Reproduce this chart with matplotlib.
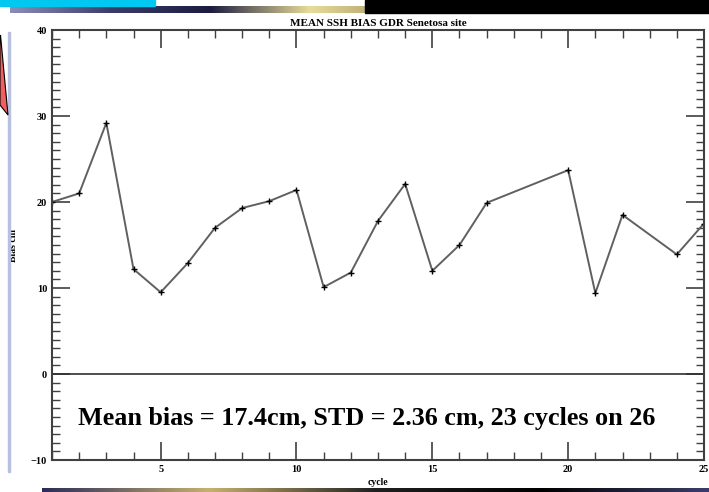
import numpy as np
import matplotlib
matplotlib.use('Agg')
import matplotlib.pyplot as plt
from matplotlib.patches import Rectangle, Polygon
from matplotlib.colors import LinearSegmentedColormap
from matplotlib.ticker import MultipleLocator

# cycles kept (18, 19 and 23 are missing) and the mean SSH bias in cm
cycles = [1, 2, 3, 4, 5, 6, 7, 8, 9, 10, 11, 12, 13, 14, 15, 16, 17, 20, 21, 22, 24, 25]
bias = [20.0, 21.0, 29.2, 12.2, 9.5, 12.9, 17.0, 19.3, 20.1, 21.4, 10.1, 11.8,
        17.8, 22.1, 12.0, 15.0, 19.9, 23.7, 9.4, 18.5, 13.9, 17.5]

title = 'MEAN SSH BIAS GDR Senetosa site'
xlab = 'cycle'
ylab = 'Bias cm'
note = 'Mean bias = 17.4cm, STD = 2.36 cm, 23 cycles on 26'

W, H = 709, 492
fig = plt.figure(figsize=(W / 100, H / 100), dpi=100)
serif = ['Liberation Serif', 'DejaVu Serif']

# --- slide decorations around the plot ---
fig.patches.append(Rectangle((0, 1 - 6 / H), 155 / W, 6 / H, transform=fig.transFigure,
                             color='#00c8f0', zorder=0))
fig.patches.append(Rectangle((365 / W, 1 - 13 / H), 1, 13 / H, transform=fig.transFigure,
                             color='#000000', zorder=0))
bar = fig.add_axes([10 / W, 1 - 13 / H, 1 - 10 / W, 7 / H])
cm_top = LinearSegmentedColormap.from_list('top', ['#8a8db8', '#3a3d6a', '#1c1c40', '#e8dc98',
                                                   '#a09060', '#808080', '#101010', '#000000'])
bar.imshow(np.linspace(0, 1, 256)[None, :], aspect='auto', cmap=cm_top)
bar.axis('off')
bot = fig.add_axes([42 / W, 0, 1 - 42 / W, 4 / H])
cm_bot = LinearSegmentedColormap.from_list('bot', ['#2a2d5a', '#c8b070', '#202020', '#000000',
                                                   '#3a3d6a'])
bot.imshow(np.linspace(0, 1, 256)[None, :], aspect='auto', cmap=cm_bot)
bot.axis('off')
fig.patches.append(Rectangle((8 / W, 20 / H), 2 / W, 440 / H, transform=fig.transFigure,
                             color='#b8c0e0', zorder=0))
fig.patches.append(Polygon([(0, 1 - 38 / H), (0.5 / W, 1 - 35 / H), (8 / W, 1 - 115 / H),
                            (0, 1 - 105 / H)], closed=True, transform=fig.transFigure,
                           facecolor='#f06060', edgecolor='black', lw=0.8, zorder=1))

# --- main plot ---
ax = fig.add_axes([52 / W, 32 / H, 652 / W, 430 / H])
ax.plot(cycles, bias, color='#606060', lw=1.4, marker='+', ms=5, mec='black', mew=1.0)
ax.axhline(0, color='#303030', lw=1.2)

ax.set_xlim(1, 25)
ax.set_ylim(-10, 40)
ax.xaxis.set_major_locator(MultipleLocator(5))
ax.xaxis.set_minor_locator(MultipleLocator(1))
ax.yaxis.set_major_locator(MultipleLocator(10))
ax.yaxis.set_minor_locator(MultipleLocator(1))
ax.tick_params(which='both', direction='in', top=True, right=True, colors='#404040',
               labelcolor='black', labelsize=7.5)
ax.tick_params(which='major', length=13, width=1.2)
ax.tick_params(which='minor', length=6, width=1.0)
for lbl in ax.get_xticklabels() + ax.get_yticklabels():
    lbl.set_family(serif)
    lbl.set_fontweight('bold')
for s in ax.spines.values():
    s.set_color('#404040')
    s.set_linewidth(1.5)

ax.set_title(title, family=serif, fontweight='bold', fontsize=8, pad=3)
ax.set_xlabel(xlab, family=serif, fontweight='bold', fontsize=7, labelpad=3)
ax.set_ylabel(ylab, family=serif, fontweight='bold', fontsize=7, labelpad=9)

fig.text(78 / W, 1 - 418 / H, note, family=serif, fontweight='bold', fontsize=18.8,
         va='center', ha='left')

fig.savefig('out.png', dpi=100)
